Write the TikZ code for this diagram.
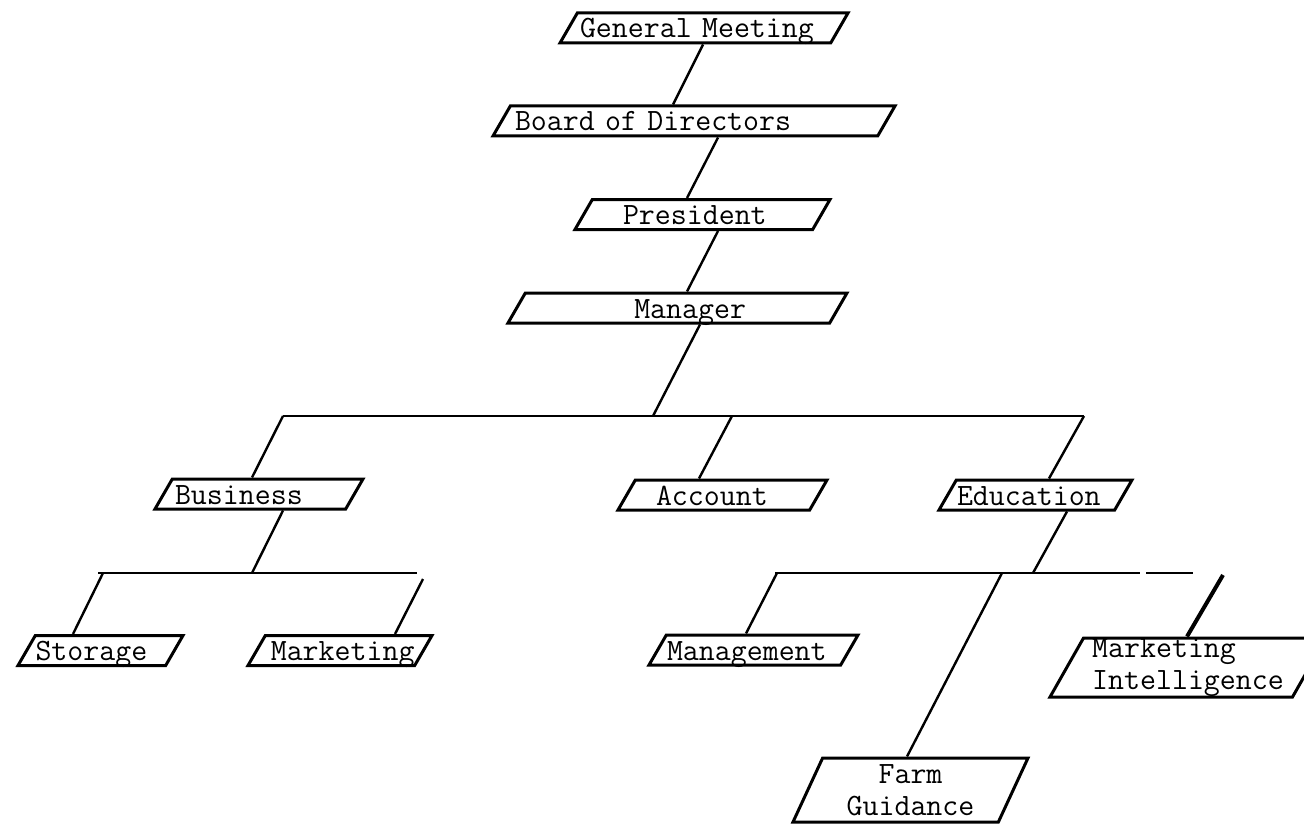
\documentclass[tikz,border=0pt]{standalone}
\usepackage{fontspec}
\usepackage{tikz}
\usetikzlibrary{shapes.geometric}
\tikzset{
    unit/.style={trapezium, trapezium left angle=60, trapezium right angle=120,
        trapezium stretches body, draw=black, line width=3pt,
        inner xsep=0pt, inner ysep=0pt, minimum height=30pt,
        font=\ttfamily\fontsize{31}{32}\selectfont},
    single/.style={unit, text height=25pt, text depth=5pt},
    double/.style={unit},
    link/.style={line width=2.4pt},
}

\begin{document}
\begin{tikzpicture}[x=1pt, y=-1pt]
    \useasboundingbox (0,0) rectangle (1304,824);
    % top of the chart
    \node[single, minimum width=288pt, text width=248pt, align=left] (meeting) at (704,28) {General Meeting};
    \node[single, minimum width=402pt, text width=358pt, align=left] (board) at (694,121) {Board of Directors};
    \node[single, minimum width=255pt, text width=159pt, align=left] (president) at (702.5,214.5) {President};
    \node[single, minimum width=339pt, text width=137pt, align=right] (manager) at (677.5,308) {Manager};
    % departments
    \node[single, minimum width=208pt, text width=168pt, align=left] (business) at (259,494) {Business};
    \node[single, minimum width=209pt, text width=133pt, align=left] (account) at (722.5,495) {Account};
    \node[single, minimum width=193pt, text width=157pt, align=left] (education) at (1035.5,495) {Education};
    % sections
    \node[single, minimum width=165pt, text width=130pt, align=left] (storage) at (100.5,650.5) {Storage};
    \node[single, minimum width=184pt, text width=149pt, align=right] (marketing) at (340,650.5) {Marketing};
    \node[single, minimum width=209pt, text width=173pt, align=left] (management) at (753.5,650) {Management};
    \node[double, minimum width=276pt, minimum height=59pt, align=left] (intel) at (1188,667.5) {Marketing\\Intelligence};
    \node[double, minimum width=235pt, minimum height=64pt, align=center] (guidance) at (910.5,790) {Farm\\Guidance};

    \coordinate (dept join) at (653,416);
    \coordinate (dept west) at (283,416);
    \coordinate (dept mid) at (732,416);
    \coordinate (dept east) at (1084,416);
    \coordinate (biz join) at (252,573);
    \coordinate (biz west) at (98,573);
    \coordinate (biz left) at (103,573);
    \coordinate (biz east) at (417,573);
    \coordinate (biz right) at (423,579);
    \coordinate (edu join) at (1033,573);
    \coordinate (edu west) at (775,573);
    \coordinate (edu left) at (777,573);
    \coordinate (edu farm) at (1002,573);
    \coordinate (edu cut) at (1140,573);
    \coordinate (edu stub) at (1146,573);
    \coordinate (edu east) at (1193,573);
    \coordinate (edu intel) at (1223,575);

    \draw[link] ([xshift=-1pt]meeting.south) -- ([xshift=-21pt]board.north);
    \draw[link] ([xshift=24pt]board.south) -- ([xshift=-15.5pt]president.north);
    \draw[link] ([xshift=15.5pt]president.south) -- ([xshift=9.5pt]manager.north);
    \draw[link] ([xshift=22.5pt]manager.south) -- (dept join);
    \draw[link] (dept west) -- (dept east);
    \draw[link] (dept west) -- ([xshift=-7pt]business.north);
    \draw[link] (dept mid) -- ([xshift=-23.5pt]account.north);
    \draw[link] (dept east) -- ([xshift=13.5pt]education.north);

    \draw[link] ([xshift=24pt]business.south) -- (biz join);
    \draw[link] (biz west) -- (biz east);
    \draw[link] (biz left) -- ([xshift=-27.5pt]storage.north);
    \draw[link] (biz right) -- ([xshift=55pt]marketing.north);

    \draw[link] ([xshift=31.5pt]education.south) -- (edu join);
    \draw[link] (edu west) -- (edu cut);
    \draw[link] (edu stub) -- (edu east);
    \draw[link] (edu left) -- ([xshift=-7.5pt]management.north);
    \draw[link] (edu farm) -- ([xshift=-3.5pt]guidance.north);
    \draw[link, line width=4pt] (edu intel) -- ([xshift=-1pt]intel.north);
\end{tikzpicture}
\end{document}
